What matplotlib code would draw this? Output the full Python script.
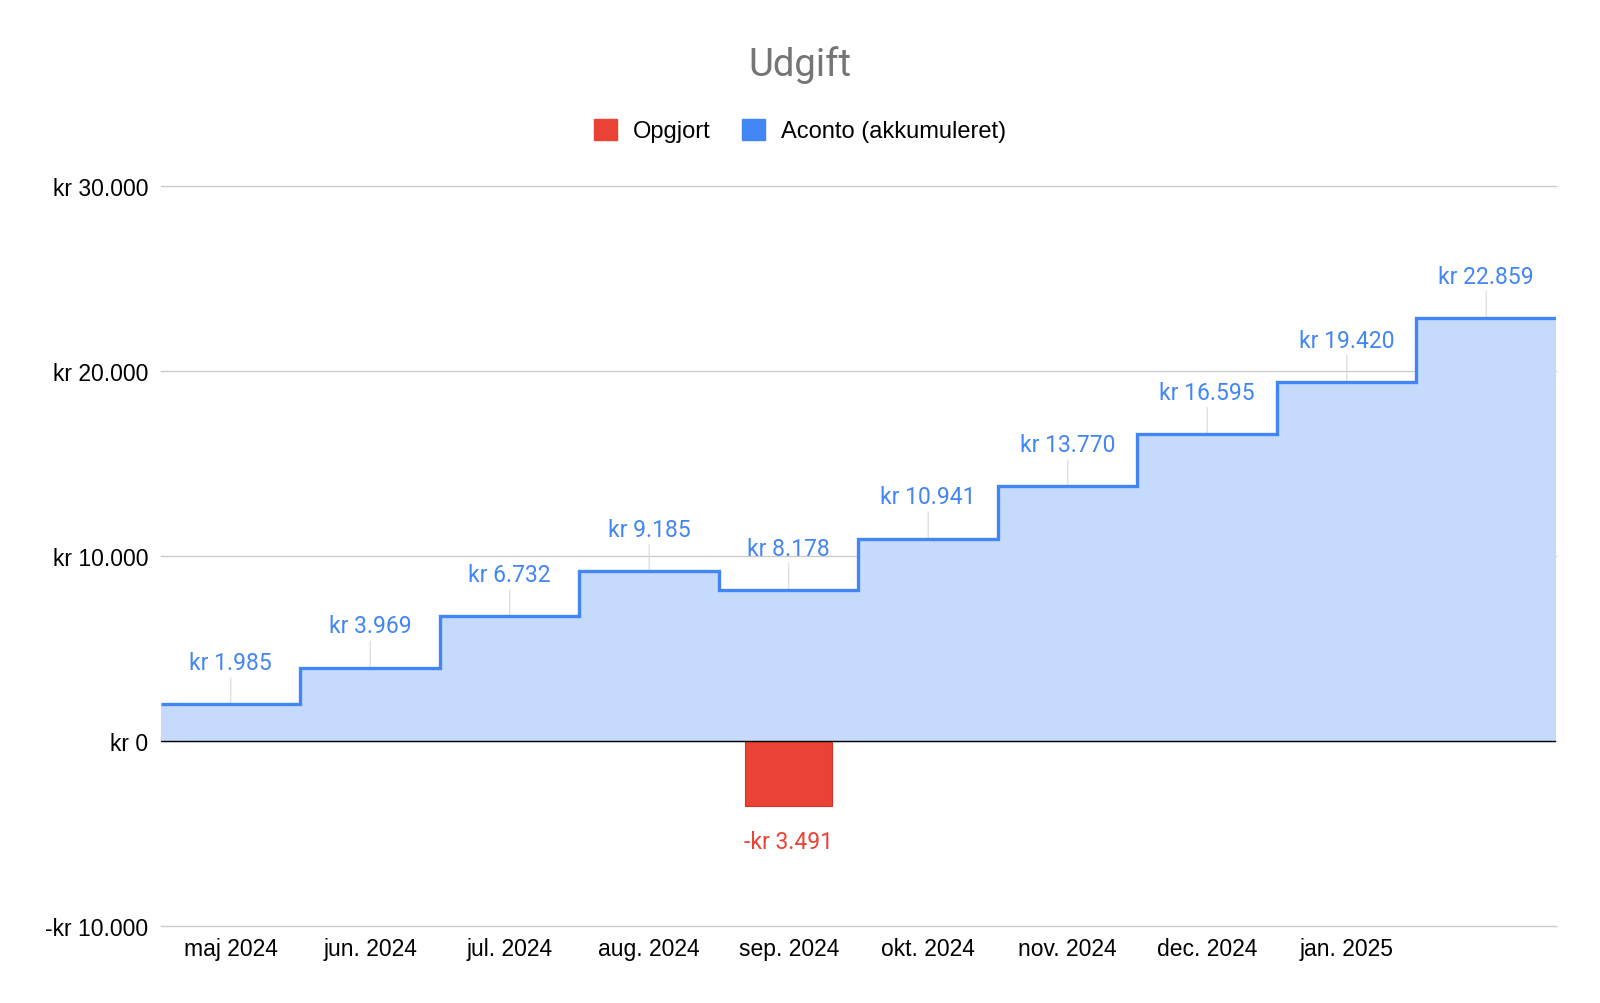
import numpy as np
import matplotlib.pyplot as plt
from matplotlib.patches import Patch

months = ['maj 2024', 'jun. 2024', 'jul. 2024', 'aug. 2024', 'sep. 2024',
          'okt. 2024', 'nov. 2024', 'dec. 2024', 'jan. 2025', '']
aconto = [1985, 3969, 6732, 9185, 8178, 10941, 13770, 16595, 19420, 22859]
opgjort = [0, 0, 0, 0, -3491, 0, 0, 0, 0, 0]

BLUE = '#4285F4'
BLUE_FILL = '#C6DAFC'
RED = '#EA4335'


def kr(v):
    s = f"kr {abs(v):,.0f}".replace(',', '.')
    return '-' + s if v < 0 else s


plt.rcParams['font.family'] = ['Liberation Sans', 'DejaVu Sans']

fig = plt.figure(figsize=(16, 10.04), dpi=100)
ax = fig.add_axes([0.1006, 0.0767, 0.8719, 0.737])

x = np.arange(len(aconto))
edges = np.arange(len(aconto) + 1) - 0.5

ax.stairs(aconto, edges, baseline=0, fill=True, color=BLUE_FILL, lw=0, zorder=2)
ax.stairs(aconto, edges, baseline=None, color=BLUE, lw=2.4, zorder=4)

for xi, v in zip(x, opgjort):
    if v != 0:
        ax.bar(xi, v, width=0.62, color=RED, edgecolor='#d93025', lw=0.8, zorder=3)
        ax.annotate(kr(v), (xi, v), xytext=(0, -26), textcoords='offset points',
                    ha='center', va='center', color=RED, fontsize=16.5,
                    family=['Roboto', 'DejaVu Sans'])

for xi, v in zip(x, aconto):
    ax.annotate('', (xi, v), xytext=(0, 19), textcoords='offset points',
                arrowprops=dict(arrowstyle='-', color='#dddddd', lw=0.9,
                                shrinkA=0, shrinkB=0), zorder=1)
    ax.annotate(kr(v), (xi, v), xytext=(0, 30), textcoords='offset points',
                ha='center', va='center', color=BLUE, fontsize=16.5,
                family=['Roboto', 'DejaVu Sans'], zorder=5)

ax.axhline(0, color='black', lw=1.0, zorder=5)

ax.set_xlim(-0.5, len(aconto) - 0.5)
ax.set_ylim(-10000, 30000)
ax.set_yticks([-10000, 0, 10000, 20000, 30000])
ax.set_yticklabels([kr(t) for t in [-10000, 0, 10000, 20000, 30000]])
ax.set_xticks(x)
ax.set_xticklabels(months)
ax.tick_params(axis='both', length=0, labelsize=16.5, colors='#000000')
ax.tick_params(axis='y', pad=9)
ax.tick_params(axis='x', pad=8)
ax.yaxis.grid(True, color='#cccccc', lw=1.0, zorder=0)
for gl in ax.get_ygridlines():
    gl.set_clip_on(False)
ax.set_axisbelow(True)
for s in ax.spines.values():
    s.set_visible(False)

fig.text(0.5, 0.935, 'Udgift', ha='center', va='center', fontsize=27.5,
         color='#757575', family=['Roboto', 'DejaVu Sans'])

handles = [Patch(color=RED, label='Opgjort'), Patch(color=BLUE, label='Aconto (akkumuleret)')]
fig.legend(handles=handles, loc='center', bbox_to_anchor=(0.5, 0.869), ncol=2,
           frameon=False, fontsize=17, handlelength=1.0, handleheight=1.0,
           handletextpad=0.68, columnspacing=1.3)

fig.savefig('out.png', dpi=100)
